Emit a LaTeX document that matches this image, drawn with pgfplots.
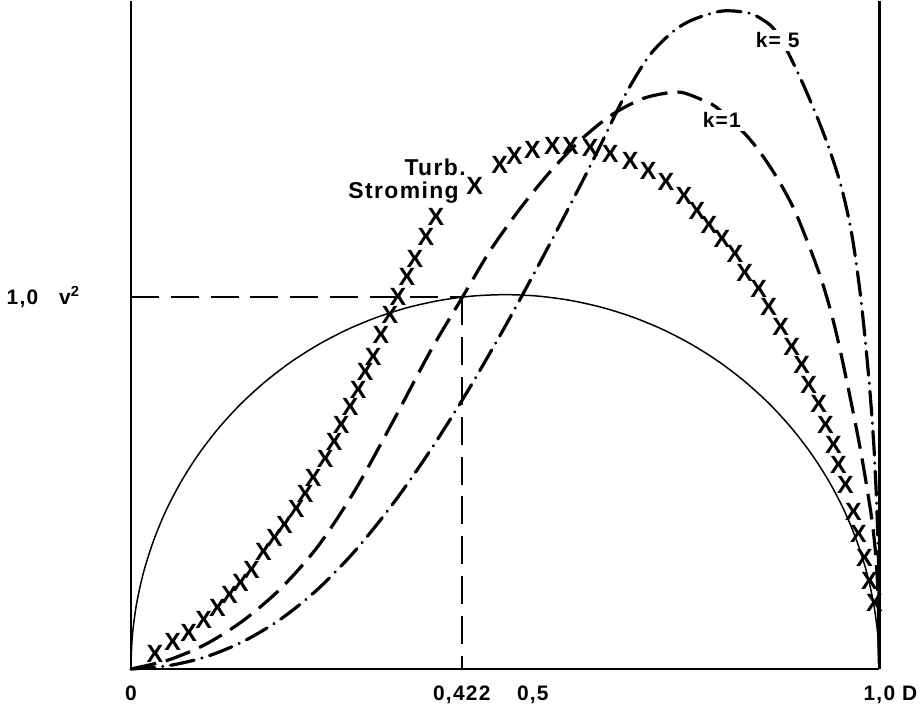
\documentclass[border=0pt]{standalone}
\usepackage{pgfplots}
\pgfplotsset{compat=1.18}
\usepackage{fontspec}
\setmainfont{Liberation Sans}[LetterSpace=6]
\begin{document}
\begin{tikzpicture}
\begin{axis}[
  scale only axis, width=375.5pt, height=335pt,
  xmin=0, xmax=1, ymin=0, ymax=1.796,
  axis x line=bottom, axis y line=left,
  axis line style={-, line width=1.2pt},
  clip=false,
  xtick={0,0.4421,0.537,1},
  xticklabels={0,{0,422},{0,5},{\phantom{\ D}1,0\ D}},
  ytick={1},
  yticklabel={1,0\hspace{1em}v\textsuperscript{2}},
  major tick length=0pt,
  tick label style={font=\fontsize{10.5}{12}\selectfont\bfseries},
  xticklabel style={yshift=-5pt},
  yticklabel style={xshift=-22pt},
]
% right border line
\addplot[black, line width=1.2pt] coordinates {(1,0) (1,1.796)};
% reference lines at 0.422 / 1.0
\addplot[black, line width=1.1pt, dash pattern=on 14pt off 6pt] coordinates {(0,1) (0.4421,1)};
\addplot[black, line width=1.1pt, dash pattern=on 14pt off 6pt] coordinates {(0.4421,1) (0.4421,0)};
% semicircle (laminar)
\addplot[black, line width=0.75pt, smooth] coordinates {
(0,0) (0.0019,0.0878) (0.0076,0.1748) (0.0170,0.2605) (0.0302,0.3443) (0.0468,0.4254)
(0.0670,0.5034) (0.0904,0.5774) (0.1170,0.6471) (0.1464,0.7118) (0.1786,0.7711)
(0.2132,0.8247) (0.25,0.8718) (0.2887,0.9124) (0.3290,0.9460) (0.3706,0.9724)
(0.4132,0.9914) (0.4564,1.0029) (0.5,1.0067)
(0.5436,1.0029) (0.5868,0.9914) (0.6294,0.9724) (0.6710,0.9460) (0.7113,0.9124)
(0.75,0.8718) (0.7868,0.8247) (0.8214,0.7711) (0.8536,0.7118) (0.8830,0.6471)
(0.9096,0.5774) (0.9330,0.5034) (0.9532,0.4254) (0.9698,0.3443) (0.9830,0.2605)
(0.9924,0.1748) (0.9981,0.0878) (1,0)};
% k = 1
\addplot[black, line width=1.6pt, smooth, dash pattern=on 13pt off 5pt] coordinates {
(0,0) (0.05,0.024) (0.10,0.0665) (0.15,0.130) (0.20,0.216) (0.25,0.330)
(0.30,0.4825) (0.35,0.665) (0.40,0.854) (0.4421,0.997) (0.48,1.125) (0.52,1.238)
(0.56,1.337) (0.60,1.421) (0.64,1.487) (0.68,1.531) (0.71,1.547) (0.735,1.551)
(0.7630,1.5308) (0.7830,1.5094) (0.8202,1.4397) (0.8429,1.3834) (0.8655,1.3137)
(0.8868,1.2332) (0.9068,1.1340) (0.9228,1.0456) (0.9361,0.9544) (0.9467,0.8660)
(0.9561,0.7775) (0.9654,0.6863) (0.9747,0.590) (0.9827,0.4960) (0.9907,0.3914)
(0.9960,0.2842) (0.9987,0.1689) (1,0)};
% k = 5
\addplot[black, line width=1.6pt, smooth, line cap=round,
  dash pattern=on 12pt off 4pt on 0.1pt off 4pt] coordinates {
(0,0) (0.05,0.0088) (0.10,0.0325) (0.15,0.0738) (0.20,0.1338) (0.25,0.2150)
(0.30,0.3188) (0.35,0.4438) (0.40,0.5875) (0.45,0.7475) (0.50,0.9213)
(0.55,1.1063) (0.60,1.2988) (0.6258,1.4021) (0.6605,1.5442) (0.6924,1.6488)
(0.7230,1.712) (0.7497,1.7453) (0.7896,1.7694) (0.8256,1.7641) (0.8469,1.7426)
(0.8602,1.7185) (0.8762,1.6649) (0.8961,1.5818) (0.9161,1.4879) (0.9334,1.3968)
(0.9494,1.2949) (0.9627,1.1743) (0.9734,1.0268) (0.9814,0.8794) (0.9880,0.7319)
(0.9927,0.5979) (0.9960,0.4638) (0.9983,0.3298) (0.9995,0.1957) (1,0)};
% turbulent flow (crosses)
\addplot[only marks, mark=text, text mark={X}, text mark as node=true,
  text mark style={font=\fontsize{12.5}{12.5}\selectfont\bfseries, inner sep=0pt, anchor=center}] coordinates {
(0.0320,0.0402) (0.0559,0.0724) (0.0772,0.0965) (0.0972,0.1314) (0.1158,0.1635)
(0.1318,0.1984) (0.1465,0.2306) (0.1611,0.2654) (0.1771,0.3137) (0.1917,0.3512)
(0.2051,0.3887) (0.2210,0.4316) (0.2330,0.4718) (0.2437,0.5147) (0.2597,0.5657)
(0.2716,0.6113) (0.2810,0.6568) (0.2929,0.7051) (0.3036,0.7507) (0.3129,0.7989)
(0.3236,0.8391) (0.3342,0.8981) (0.3462,0.9517) (0.3569,1.0000) (0.3688,1.0536)
(0.3795,1.1019) (0.3941,1.1609) (0.4075,1.2145) (0.4594,1.3003) (0.4927,1.3566)
(0.5126,1.3807) (0.5366,1.3968) (0.5632,1.4075) (0.5872,1.4075) (0.6138,1.4021)
(0.6405,1.3861) (0.6671,1.3673) (0.6911,1.3405) (0.7150,1.3110) (0.7390,1.2735)
(0.7563,1.2332) (0.7723,1.1930) (0.7896,1.1555) (0.8069,1.1153) (0.8202,1.0643)
(0.8389,1.0214) (0.8522,0.9732) (0.8682,0.9196) (0.8828,0.8660) (0.8961,0.8177)
(0.9055,0.7641) (0.9188,0.7131) (0.9281,0.6568) (0.9387,0.6032) (0.9454,0.5496)
(0.9547,0.4960) (0.9654,0.4236) (0.9720,0.3619) (0.9800,0.2976) (0.9867,0.2359)
(0.9933,0.1769)};
% labels
\node[anchor=base east, font=\fontsize{11.5}{12}\selectfont\bfseries] at (axis cs:0.4567,1.3271) {Turb.};
\node[anchor=base east, font=\fontsize{11.5}{12}\selectfont\bfseries] at (axis cs:0.4474,1.2654) {Stroming};
\node[anchor=base, fill=white, inner sep=1.5pt, font=\fontsize{10.5}{12}\selectfont\bfseries] at (axis cs:0.8642,1.6702) {k=\ 5};
\node[anchor=base, fill=white, inner sep=1.5pt, font=\fontsize{10.5}{12}\selectfont\bfseries] at (axis cs:0.7896,1.4558) {k=1};
\end{axis}
\end{tikzpicture}
\end{document}
